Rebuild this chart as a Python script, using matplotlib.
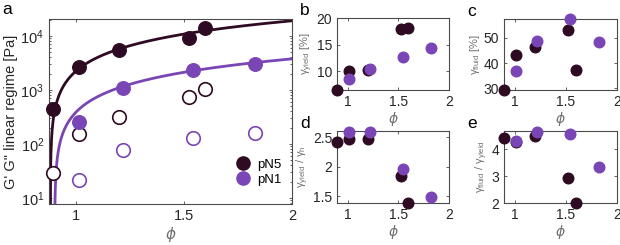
import numpy as np
import matplotlib
matplotlib.use("Agg")
import matplotlib.pyplot as plt
from matplotlib.lines import Line2D

plt.rcParams.update({
    "font.family": ["Liberation Sans", "DejaVu Sans"],
    "mathtext.fontset": "custom",
    "mathtext.rm": "Liberation Sans",
    "mathtext.it": "Liberation Sans:italic",
    "mathtext.default": "regular",
    "xtick.direction": "in",
    "ytick.direction": "in",
    "xtick.top": True,
    "ytick.right": True,
    "axes.linewidth": 0.8,
})

DARK = "#2e0b22"
PURP = "#7a45b5"
SPINE = "#4a4a4a"
TXT = "#262626"
GRAY = "#707070"

# ── data ──────────────────────────────────────────────────────────────────────
phi_pn5 = [0.894, 1.014, 1.200, 1.524, 1.598]
phi_pn1 = [1.014, 1.215, 1.542, 1.827]

g1_pn5 = [450, 2650, 5500, 9200, 14000]     # G' (filled)
g2_pn5 = [29, 155, 320, 740, 1050]          # G'' (open)
g1_pn1 = [257, 1090, 2350, 3000]
g2_pn1 = [21, 77, 130, 158]

# power-law fits  G' = A (phi - phi_c)^n
fit_pn5 = dict(A=17040, phi_c=0.88, n=0.956)
fit_pn1 = dict(A=3428, phi_c=0.90, n=0.944)

yield_pn5 = [6.5, 10.0, 10.3, 18.1, 18.3]
yield_pn1 = [8.5, 10.5, 12.7, 14.5]

fluid_pn5 = [29.3, 43.2, 46.3, 53.0, 37.3]
fluid_pn1 = [36.8, 48.9, 57.5, 48.4]

ratio_h_pn5 = [2.43, 2.48, 2.47, 1.84, 1.39]
ratio_h_pn1 = [2.60, 2.59, 1.96, 1.48]

ratio_f_pn5 = [4.42, 4.27, 4.47, 2.93, 2.00]
ratio_f_pn1 = [4.30, 4.64, 4.56, 3.34]


def style_ax(ax, tick_size):
    for s in ax.spines.values():
        s.set_color(SPINE)
    ax.tick_params(which="both", colors=SPINE, labelcolor=TXT,
                   labelsize=tick_size, length=2.5, width=0.6)
    ax.tick_params(which="minor", length=1.5)


W, H = 620, 245
fig = plt.figure(figsize=(W / 100, H / 100), dpi=100)


def px_axes(l, r, t, b):
    return fig.add_axes([l / W, 1 - b / H, (r - l) / W, (b - t) / H])


# ── panel a ───────────────────────────────────────────────────────────────────
ax = px_axes(49, 292, 19, 204)
for fit, col in [(fit_pn5, DARK), (fit_pn1, PURP)]:
    xs = np.linspace(fit["phi_c"] + 1e-4, 2.0, 800)
    ax.plot(xs, fit["A"] * (xs - fit["phi_c"]) ** fit["n"], color=col, lw=2)
ax.scatter(phi_pn5, g2_pn5, s=95, facecolor="white", edgecolor=DARK, lw=1.2,
           zorder=3, clip_on=False)
ax.scatter(phi_pn1, g2_pn1, s=95, facecolor="white", edgecolor=PURP, lw=1.2,
           zorder=3, clip_on=False)
ax.scatter(phi_pn5, g1_pn5, s=95, color=DARK, zorder=4, clip_on=False)
ax.scatter(phi_pn1, g1_pn1, s=95, color=PURP, zorder=4, clip_on=False)
ax.set_yscale("log")
ax.set_xlim(0.874, 2)
ax.set_ylim(7.7, 2.05e4)
ax.set_xticks([1, 1.5, 2])
ax.set_xticklabels(["1", "1.5", "2"])
ax.set_yticks([10, 100, 1000, 10000])
ax.set_yticklabels(["$10^{1}$", "$10^{2}$", "$10^{3}$", "$10^{4}$"])
style_ax(ax, 10.5)
ax.set_ylabel("G' G\" linear regime [Pa]", fontsize=10.5, color=TXT, labelpad=2)
ax.set_xlabel("ϕ", fontsize=11, color=GRAY, fontstyle="italic",
              family="DejaVu Sans", labelpad=3)
handles = [Line2D([], [], ls="", marker="o", ms=9.5, color=DARK, label="pN5"),
           Line2D([], [], ls="", marker="o", ms=9.5, color=PURP, label="pN1")]
ax.legend(handles=handles, loc="lower right", frameon=False, fontsize=9.5,
          handletextpad=0.05, labelspacing=0.25, borderaxespad=0.4,
          bbox_to_anchor=(1.0, 0.04))
fig.text(2 / W, 1 - 10 / H, "a", fontsize=12.5, color="black", va="center")

# ── panels b–e ────────────────────────────────────────────────────────────────
small = [
    ((337, 449, 18.5, 90), yield_pn5, yield_pn1, (6.5, 20), [10, 15, 20],
     r"$\gamma_{yield}$ [%]", "b"),
    ((504, 617, 19, 90), fluid_pn5, fluid_pn1, (29.3, 57.5), [30, 40, 50],
     r"$\gamma_{fluid}$ [%]", "c"),
    ((337, 449, 131, 203), ratio_h_pn5, ratio_h_pn1, (1.386, 2.61), [1.5, 2, 2.5],
     r"$\gamma_{yield}$ / $\gamma_{h}$", "d"),
    ((504, 617, 131, 203), ratio_f_pn5, ratio_f_pn1, (2.0, 4.67), [2, 3, 4],
     r"$\gamma_{fluid}$ / $\gamma_{yield}$", "e"),
]
for (l, r, t, b), v5, v1, ylim, yt, ylab, letter in small:
    ax = px_axes(l, r, t, b)
    ax.scatter(phi_pn5, v5, s=58, color=DARK, clip_on=False, zorder=3)
    ax.scatter(phi_pn1, v1, s=58, color=PURP, clip_on=False, zorder=4)
    ax.set_xlim(0.894, 2)
    ax.set_ylim(*ylim)
    ax.set_xticks([1, 1.5, 2])
    ax.set_xticklabels(["1", "1.5", "2"])
    ax.set_yticks(yt)
    ax.set_yticklabels([f"{v:g}" for v in yt])
    style_ax(ax, 10)
    ax.set_ylabel(ylab, fontsize=8, color=GRAY, labelpad=1)
    ax.set_xlabel("ϕ", fontsize=10, color=GRAY, fontstyle="italic",
                  family="DejaVu Sans", labelpad=2)
    fig.text((l - 37) / W, 1 - (t - 8) / H, letter, fontsize=12.5,
             color="black", va="center")

fig.savefig("out.png", dpi=100)
